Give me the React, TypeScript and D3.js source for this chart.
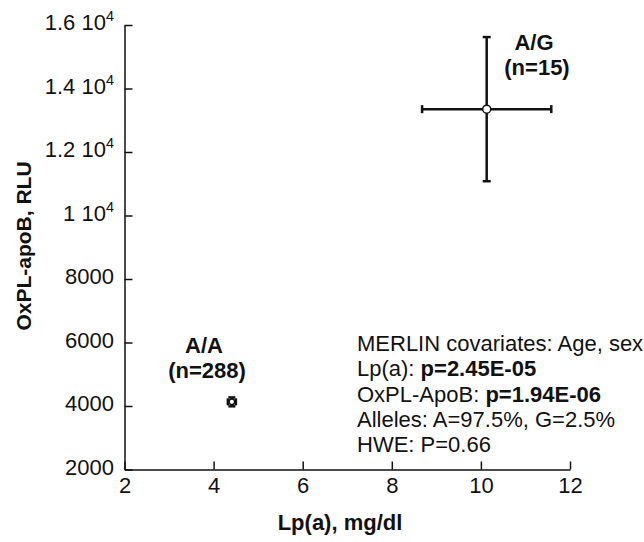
import React, { useEffect, useRef } from 'react';
import * as d3 from 'd3';

// groups: genotype, mean Lp(a), mean OxPL-apoB, error half-widths
const groups = ['A/A', 'A/G'];
const groupN = ['(n=288)', '(n=15)'];
const lpaMean = [4.41, 10.13];
const lpaErr = [0.09, 1.45];
const oxplMean = [4130, 13350];
const oxplErr = [140, 2270];

const xTicks = [2, 4, 6, 8, 10, 12];
const yTicks = [2000, 4000, 6000, 8000, 10000, 12000, 14000, 16000];
const yTickLabels = ['2000', '4000', '6000', '8000', '1 10', '1.2 10', '1.4 10', '1.6 10'];
const yTickExp = ['', '', '', '', '4', '4', '4', '4'];

// annotation block: [normal part, bold part]
const notes = [
  ['MERLIN covariates: Age, sex', ''],
  ['Lp(a): ', 'p=2.45E-05'],
  ['OxPL-ApoB: ', 'p=1.94E-06'],
  ['Alleles: A=97.5%, G=2.5%', ''],
  ['HWE: P=0.66', ''],
];

const FONT = '"Liberation Sans", Arial, sans-serif';

export default function App() {
  const svgRef = useRef<SVGSVGElement>(null);

  useEffect(() => {
    const W = 644;
    const H = 542;
    const svg = d3.select(svgRef.current).attr('width', W).attr('height', H);
    svg.selectAll('*').remove();

    const x = d3.scaleLinear().domain([2, 12]).range([124.5, 570]);
    const y = d3.scaleLinear().domain([2000, 16000]).range([469.5, 25]);

    // x axis, ticks pointing inward
    const gx = svg.append('g')
      .attr('transform', `translate(0,${y(2000)})`)
      .call(d3.axisBottom(x).tickValues(xTicks).tickSize(-8).tickSizeOuter(0).tickPadding(8).tickFormat(d3.format('d')));
    gx.selectAll('path, line').attr('stroke', '#111').attr('stroke-width', 1.5);
    gx.selectAll('text').attr('font-family', FONT).attr('font-size', 22).attr('fill', '#111');

    // y axis, labels drawn separately for the superscripts
    const gy = svg.append('g')
      .attr('transform', `translate(${x(2)},0)`)
      .call(d3.axisLeft(y).tickValues(yTicks).tickSize(-8).tickSizeOuter(0).tickFormat(() => ''));
    gy.selectAll('path, line').attr('stroke', '#111').attr('stroke-width', 1.5);

    yTicks.forEach((v, i) => {
      const t = svg.append('text')
        .attr('x', 114)
        .attr('y', y(v) + 5)
        .attr('text-anchor', 'end')
        .attr('font-family', FONT)
        .attr('font-size', 22)
        .attr('fill', '#111');
      t.append('tspan').text(yTickLabels[i]);
      if (yTickExp[i]) {
        t.append('tspan').attr('dy', -9).attr('font-size', 14.5).text(yTickExp[i]);
      }
    });

    // axis titles
    svg.append('text')
      .attr('x', 340)
      .attr('y', 530)
      .attr('text-anchor', 'middle')
      .attr('font-family', FONT)
      .attr('font-weight', 'bold')
      .attr('font-size', 22)
      .attr('fill', '#111')
      .text('Lp(a), mg/dl');

    svg.append('text')
      .attr('transform', 'translate(31,246) rotate(-90)')
      .attr('text-anchor', 'middle')
      .attr('font-family', FONT)
      .attr('font-weight', 'bold')
      .attr('font-size', 21)
      .attr('fill', '#111')
      .text('OxPL-apoB, RLU');

    // error bars + points
    groups.forEach((g, i) => {
      const cx = x(lpaMean[i]);
      const cy = y(oxplMean[i]);
      const x0 = x(lpaMean[i] - lpaErr[i]);
      const x1 = x(lpaMean[i] + lpaErr[i]);
      const y0 = y(oxplMean[i] - oxplErr[i]);
      const y1 = y(oxplMean[i] + oxplErr[i]);
      const cap = i === 0 ? 3.5 : 4;
      const e = svg.append('g').attr('stroke', '#111').attr('stroke-width', 2.5);
      e.append('line').attr('x1', x0).attr('x2', x1).attr('y1', cy).attr('y2', cy);
      e.append('line').attr('x1', cx).attr('x2', cx).attr('y1', y0).attr('y2', y1);
      e.append('line').attr('x1', x0).attr('x2', x0).attr('y1', cy - cap).attr('y2', cy + cap);
      e.append('line').attr('x1', x1).attr('x2', x1).attr('y1', cy - cap).attr('y2', cy + cap);
      e.append('line').attr('x1', cx - cap).attr('x2', cx + cap).attr('y1', y0).attr('y2', y0);
      e.append('line').attr('x1', cx - cap).attr('x2', cx + cap).attr('y1', y1).attr('y2', y1);
      svg.append('circle')
        .attr('cx', cx)
        .attr('cy', cy)
        .attr('r', i === 0 ? 2.8 : 4)
        .attr('fill', '#fff')
        .attr('stroke', '#111')
        .attr('stroke-width', 1.5);
    });

    // group labels
    const labelPos = [[204, 353], [534, 50]];
    groups.forEach((g, i) => {
      const t = svg.append('text')
        .attr('text-anchor', 'middle')
        .attr('font-family', FONT)
        .attr('font-weight', 'bold')
        .attr('font-size', 22)
        .attr('fill', '#111');
      t.append('tspan').attr('x', labelPos[i][0]).attr('y', labelPos[i][1]).text(g);
      t.append('tspan').attr('x', labelPos[i][0] + 3).attr('y', labelPos[i][1] + 25).text(groupN[i]);
    });

    // annotation block
    notes.forEach((n, i) => {
      const t = svg.append('text')
        .attr('x', 357)
        .attr('y', 351 + i * 25.3)
        .attr('font-family', FONT)
        .attr('font-size', 22)
        .attr('fill', '#111');
      t.append('tspan').text(n[0]);
      if (n[1]) t.append('tspan').attr('font-weight', 'bold').text(n[1]);
    });
  }, []);

  return (
    <svg ref={svgRef} style={{ position: 'absolute', left: 0, top: 0, background: '#fff' }}></svg>
  );
}
